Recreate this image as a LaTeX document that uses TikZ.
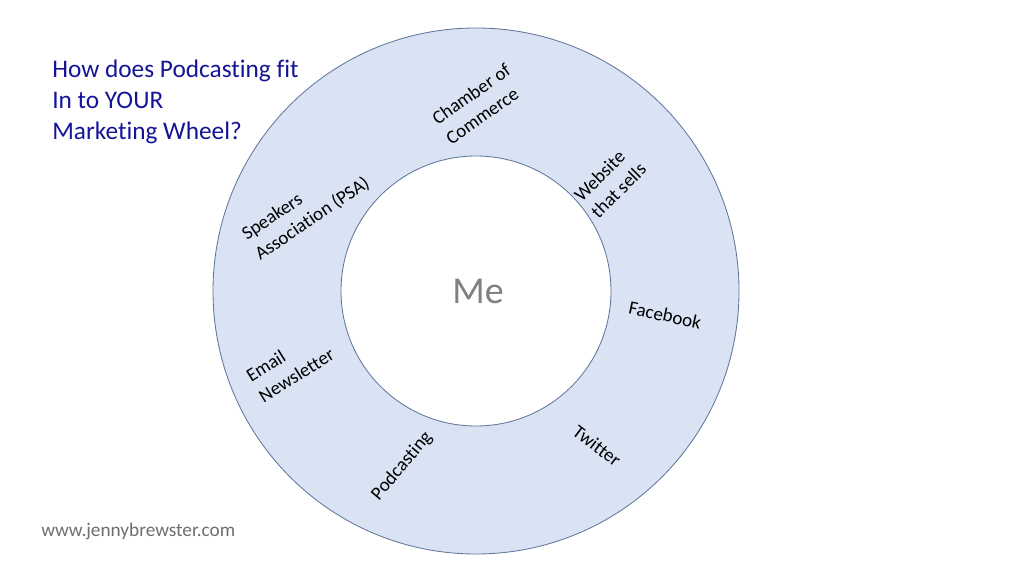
\documentclass[tikz,border=0pt]{standalone}
\usepackage{fontspec}
\setmainfont[Ligatures=NoCommon]{Carlito}
\usepackage{xcolor}
\usepackage{tikz}
\usetikzlibrary{positioning}
\definecolor{ringblue}{RGB}{218, 227, 243}
\definecolor{ringedge}{RGB}{96, 118, 156}
\definecolor{titleblue}{RGB}{20, 20, 150}
\definecolor{megray}{RGB}{128, 128, 128}
\definecolor{footgray}{RGB}{110, 110, 110}

\begin{document}
\begin{tikzpicture}[
  x=0.025cm, y=-0.025cm,
  spoke/.style={font=\fontsize{13.5}{17}\selectfont, align=left, inner sep=0pt},
]
  % Constants
  \def\Ro{263}  % outer radius
  \def\Ri{135}  % inner radius

  \useasboundingbox (0,0) rectangle (1024,576);

  % Wheel
  \coordinate (hub) at (476,291);
  \draw[ringedge, fill=ringblue, line width=0.6pt] (hub) circle (\Ro);
  \draw[ringedge, fill=white, line width=0.6pt] (hub) circle (\Ri);
  \node[font=\fontsize{27}{30}\selectfont, text=megray] (me) at (478,291) {Me};

  % Spokes of the wheel
  \node[spoke, rotate=35]  (chamber)  at (478,104) {Chamber of\\Commerce};
  \node[spoke, rotate=45]  (website)  at (610,182) {Website\\that sells};
  \node[spoke, rotate=34]  (speakers) at (306,209) {Speakers\\Association (PSA)};
  \node[spoke, rotate=-12] (facebook) at (665,315) {Facebook};
  \node[spoke, rotate=32]  (email)    at (290,365) {Email\\Newsletter};
  \node[spoke, rotate=50]  (podcast)  at (402,466) {Podcasting};
  \node[spoke, rotate=-37] (twitter)  at (597,446) {Twitter};

  % Title
  \node[font=\fontsize{18}{22}\selectfont, text=titleblue, align=left,
        anchor=north west, inner sep=0pt] (title) at (52,60)
        {How does Podcasting fit\\In to YOUR\\Marketing Wheel?};

  % Footer
  \node[font=\fontsize{13.7}{16}\selectfont, text=footgray, anchor=base west,
        inner sep=0pt] (site) at (41,536) {www.jennybrewster.com};

\end{tikzpicture}
\end{document}
